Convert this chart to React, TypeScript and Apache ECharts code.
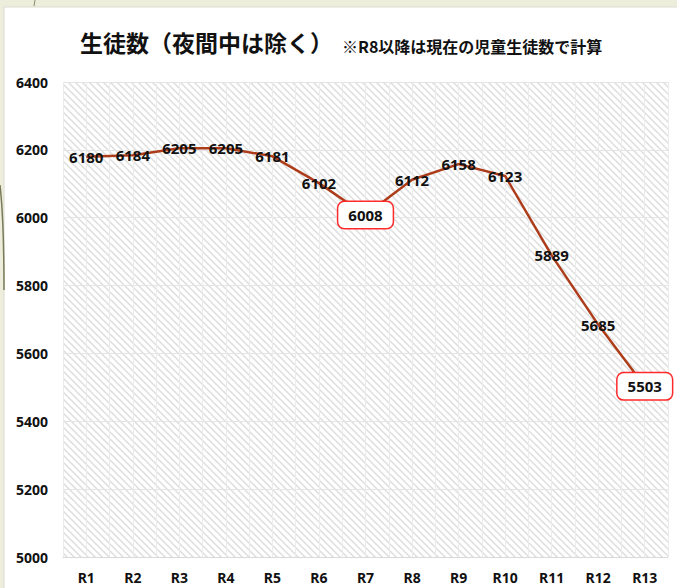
import React, { useEffect, useRef } from "react";
import * as echarts from "echarts";

const categories = ["R1", "R2", "R3", "R4", "R5", "R6", "R7", "R8", "R9", "R10", "R11", "R12", "R13"];
const students = [6180, 6184, 6205, 6205, 6181, 6102, 6008, 6112, 6158, 6123, 5889, 5685, 5503];
const highlighted = ["R7", "R13"];
const yTicks = { min: 5000, max: 6400, interval: 200 };
const titleMain = "生徒数（夜間中は除く）";
const titleSub = "※R8以降は現在の児童生徒数で計算";

function hatchImage(): string {
  const c = document.createElement("canvas");
  const s = 7;
  c.width = s;
  c.height = s;
  const ctx = c.getContext("2d");
  if (ctx) {
    ctx.fillStyle = "#ffffff";
    ctx.fillRect(0, 0, s, s);
    ctx.strokeStyle = "#dedede";
    ctx.lineWidth = 1.5;
    ctx.beginPath();
    ctx.moveTo(-1, -1);
    ctx.lineTo(s + 1, s + 1);
    ctx.moveTo(-2, s - 2);
    ctx.lineTo(2, s + 2);
    ctx.moveTo(s - 2, -2);
    ctx.lineTo(s + 2, 2);
    ctx.stroke();
  }
  return c.toDataURL();
}

export default function App() {
  const ref = useRef<HTMLDivElement>(null);
  useEffect(() => {
    document.body.style.margin = "0";
    if (!ref.current) return;
    const chart = echarts.init(ref.current, undefined, { renderer: "svg" });
    const font = "'Noto Sans', 'Noto Sans CJK JP', sans-serif";
    const data = students.map((v, i) => {
      if (highlighted.includes(categories[i])) {
        return {
          value: v,
          label: {
            backgroundColor: "#ffffff",
            borderColor: "#ff2a2a",
            borderWidth: 1.5,
            borderRadius: 6,
            padding: [6, 10, 5, 10],
          },
        };
      }
      return v;
    });
    chart.setOption({
      animation: false,
      backgroundColor: "#eceedb",
      graphic: [
        { type: "rect", shape: { x: 4, y: 7, width: 680, height: 590 }, style: { fill: "#ffffff", stroke: "#dcdcd0", lineWidth: 1 }, z: -10 },
        { type: "line", shape: { x1: 35, y1: 0, x2: 34, y2: 6 }, style: { stroke: "#8a8a6a", lineWidth: 1 } },
        { type: "bezierCurve", shape: { x1: 0, y1: 185, x2: 4, y2: 290, cpx1: 4, cpy1: 220, cpx2: 4, cpy2: 260 }, style: { stroke: "#7a7a5a", lineWidth: 1.5, fill: "none" } },
        {
          type: "text",
          x: 80,
          y: 42,
          style: { text: titleMain, font: `bold 23px 'Noto Sans CJK JP', sans-serif`, fill: "#111111", verticalAlign: "middle" },
        },
        {
          type: "text",
          x: 342,
          y: 46,
          style: { text: titleSub, font: `bold 16px 'Noto Sans CJK JP', sans-serif`, fill: "#111111", verticalAlign: "middle" },
        },
      ],
      grid: {
        left: 63,
        right: 9,
        top: 82,
        bottom: 31,
        show: true,
        borderWidth: 0,
        backgroundColor: { image: hatchImage(), repeat: "repeat" },
      },
      xAxis: [
        {
          type: "category",
          data: categories,
          boundaryGap: true,
          axisLine: { show: true, lineStyle: { color: "#d9d9d9", width: 1 } },
          axisTick: { show: false },
          splitLine: { show: false },
          axisLabel: { color: "#111111", fontFamily: font, fontWeight: "bold", fontSize: 14, margin: 13 },
        },
        {
          type: "value",
          min: 0,
          max: 26,
          interval: 1,
          show: true,
          position: "bottom",
          axisLine: { show: false },
          axisTick: { show: false },
          axisLabel: { show: false },
          splitLine: { show: true, lineStyle: { color: "#ececec", width: 1 } },
        },
      ],
      yAxis: {
        type: "value",
        min: yTicks.min,
        max: yTicks.max,
        interval: yTicks.interval,
        axisLine: { show: false },
        axisTick: { show: false },
        splitLine: { show: true, lineStyle: { color: "#e4e4e4", width: 1 } },
        axisLabel: {
          color: "#111111",
          fontFamily: font,
          fontWeight: "bold",
          fontSize: 14,
          margin: 15,
          formatter: (v: number) => String(v),
        },
      },
      series: [
        {
          type: "line",
          xAxisIndex: 0,
          data,
          showSymbol: true,
          symbol: "circle",
          symbolSize: 2,
          itemStyle: { color: "rgba(0,0,0,0)", borderWidth: 0 },
          lineStyle: { color: "#ad3d1a", width: 2.5 },
          labelLayout: { hideOverlap: false },
          label: {
            show: true,
            position: "inside",
            color: "#111111",
            fontFamily: font,
            fontWeight: "bold",
            fontSize: 15,
          },
          z: 5,
        },
      ],
    });
    return () => chart.dispose();
  }, []);
  return <div ref={ref} style={{ width: 677, height: 588, position: "absolute", left: 0, top: 0 }} />;
}
